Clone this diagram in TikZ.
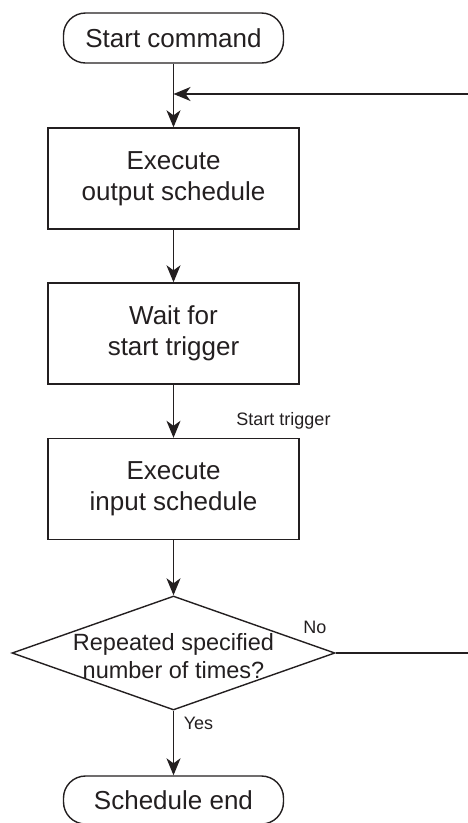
\documentclass[tikz,border=0pt]{standalone}
\usepackage{fontspec}
\setmainfont{Liberation Sans}
\usetikzlibrary{arrows.meta,shapes.geometric,positioning}
\definecolor{ink}{HTML}{231F20}
\begin{document}
\begin{tikzpicture}[x=1pt,y=-1pt,
  line width=1.4pt, draw=ink,
  every node/.style={text=ink},
  maintext/.style={font=\fontsize{26}{31.2}\selectfont, align=center},
  dtext/.style={font=\fontsize{23.5}{28.5}\selectfont, align=center},
  smalltext/.style={font=\fontsize{18}{21}\selectfont},
  terminal/.style={draw=ink, line width=1.4pt, rounded corners=22pt, minimum width=220pt, minimum height=50pt, inner sep=0pt, maintext},
  procbox/.style={draw=ink, line width=1.4pt, minimum width=251pt, minimum height=101pt, inner sep=0pt, maintext},
  decision/.style={draw=ink, line width=1.4pt, shape=diamond, minimum width=323pt, minimum height=114pt, inner sep=0pt},
  flow/.style={draw=ink, line width=1.4pt, -{Stealth[length=17pt,width=14pt,inset=5pt]}},
  plain/.style={draw=ink, line width=1.4pt}
]
\useasboundingbox (0,0) rectangle (467,823);
\node[terminal] (start) at (173.5,38) {Start command};
\node[procbox] (b1) at (173.5,178.5) {Execute\\output schedule};
\node[procbox] (b2) at (173.5,333.5) {Wait for\\start trigger};
\node[procbox] (b3) at (173.5,489) {Execute\\input schedule};
\node[decision] (dec) at (173.5,653) {};
\node[dtext] (dectext) at (173.5,656) {Repeated specified\\number of times?};
\node[terminal, minimum height=48pt] (end) at (173.5,800) {Schedule end};
\coordinate (join) at (173.5,94);
\coordinate (loopR) at (474,653);
\draw[flow] (start.south) -- (b1.north);
\draw[flow] (b1.south) -- (b2.north);
\draw[flow] (b2.south) -- (b3.north);
\draw[flow] (b3.south) -- (dec.north);
\draw[flow] (dec.south) -- (end.north);
\draw[flow] (dec.east) -- (loopR) |- (join);
\node[smalltext] (trig) at (283.5,421) {Start trigger};
\node[smalltext] (no) at (315,627) {No};
\node[smalltext] (yes) at (198.5,723) {Yes};
\end{tikzpicture}
\end{document}
